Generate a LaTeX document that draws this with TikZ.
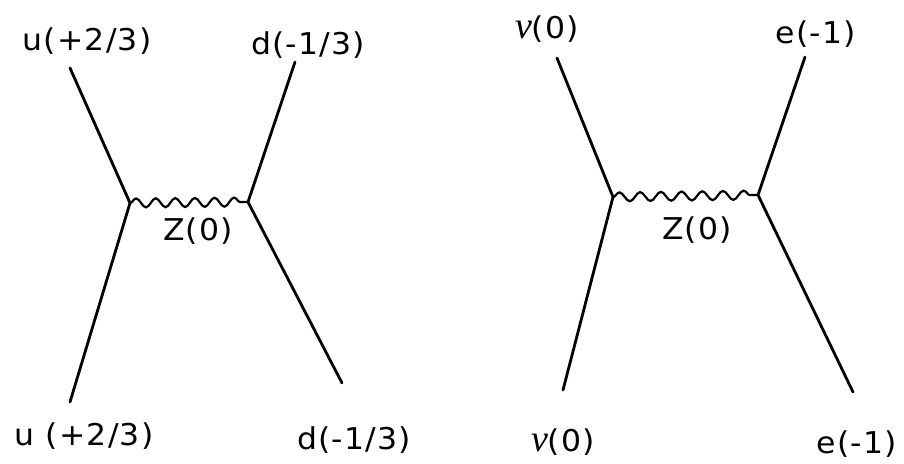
\documentclass[tikz,border=0pt]{standalone}
\usepackage{fontspec}
\setsansfont{DejaVu Sans}[FakeStretch=1.05,LetterSpace=4]
\newfontfamily\grkfont{Liberation Serif}
\newcommand{\nusym}{{\grkfont\itshape\fontsize{38}{38}\selectfont ν}}
\usetikzlibrary{decorations.pathmorphing}

\begin{document}
\begin{tikzpicture}[
    x=1pt, y=-1pt,
    font=\sffamily\fontsize{30}{34}\selectfont,
    fermion/.style={line width=2.8pt, line cap=round},
    boson/.style={line width=2.2pt, decorate,
                  decoration={snake, segment length=19.6pt, amplitude=4.5pt}},
    lbl/.style={inner sep=0pt}
  ]
    \useasboundingbox (0,0) rectangle (904,463);

    % Left diagram: quarks
    \coordinate (qvl) at (130,203);
    \coordinate (qvr) at (248,202);
    \coordinate (uin)  at (70,402);
    \coordinate (uout) at (70,68);
    \coordinate (din)  at (342,383);
    \coordinate (dout) at (295,62);

    \node[lbl] (uoutl) at (87,41)   {u(+2/3)};
    \node[lbl] (doutl) at (308,45)  {d(-1/3)};
    \node[lbl] (uinl)  at (84,436)  {u (+2/3)};
    \node[lbl] (dinl)  at (354,440) {d(-1/3)};
    \node[lbl] (zq)    at (198,231) {Z(0)};

    \draw[fermion] (uin) -- (qvl) -- (uout);
    \draw[fermion] (din) -- (qvr) -- (dout);
    \draw[boson] (qvl) -- (qvr);

    % Right diagram: leptons
    \coordinate (lvl) at (613,197);
    \coordinate (lvr) at (758,195);
    \coordinate (nin)  at (563,390);
    \coordinate (nout) at (557,58);
    \coordinate (ein)  at (853,392);
    \coordinate (eout) at (805,57);

    \node[lbl] (noutl) at (547,29)  {\nusym(0)};
    \node[lbl] (eoutl) at (816,34)  {e(-1)};
    \node[lbl] (ninl)  at (563,442) {\nusym (0)};
    \node[lbl] (einl)  at (857,444) {e(-1)};
    \node[lbl] (zl)    at (697,230) {Z(0)};

    \draw[fermion] (nin) -- (lvl) -- (nout);
    \draw[fermion] (ein) -- (lvr) -- (eout);
    \draw[boson, decoration={segment length=20.7pt}] (lvl) -- (lvr);
\end{tikzpicture}
\end{document}
